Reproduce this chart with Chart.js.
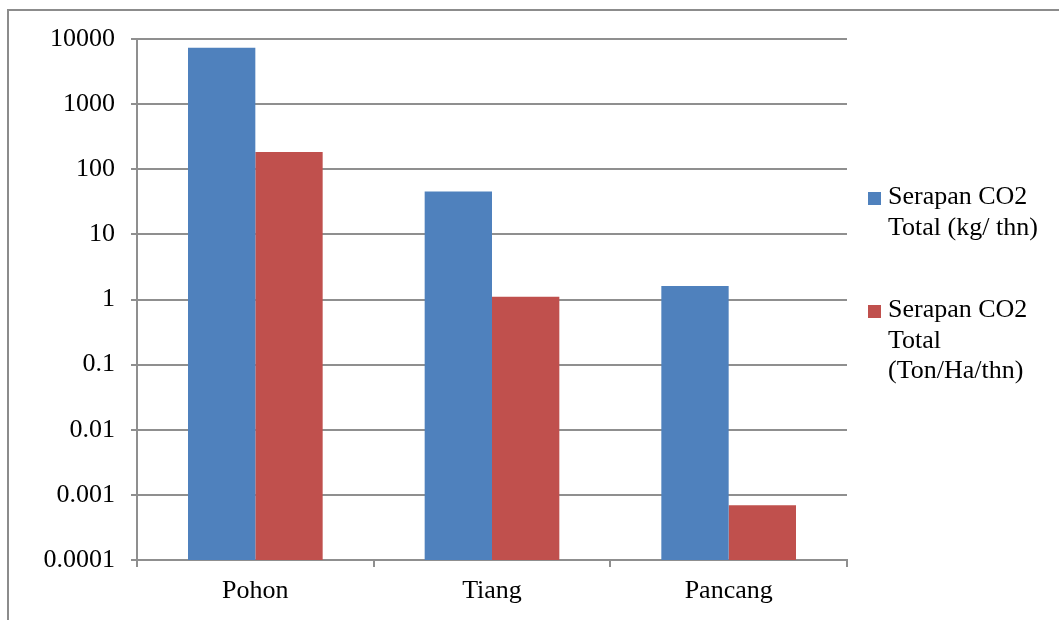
<!DOCTYPE html>
<html>
<head>
<meta charset="utf-8">
<script src="https://cdn.jsdelivr.net/npm/chart.js@4.4.1/dist/chart.umd.min.js"></script>
<style>
  html, body { margin: 0; padding: 0; background: #fff; }
  #wrap { position: relative; width: 1059px; height: 620px; overflow: hidden; }
  #frame { position: absolute; left: 7px; top: 9px; width: 1100px; height: 700px;
           border-top: 2px solid #8c8c8c; border-left: 2px solid #8c8c8c; pointer-events: none; }
  canvas { position: absolute; left: 0; top: 0; }
  .leg { position: absolute; left: 868px; font-family: "Liberation Serif", "Times New Roman", serif;
         font-size: 26px; line-height: 30.5px; color: #000; }
  .leg .sw { position: absolute; left: 0; width: 13px; height: 13px; }
  .leg .tx { position: absolute; left: 20px; top: 0; width: 165px; }
</style>
</head>
<body>
<div id="wrap">
  <canvas id="c" width="1059" height="620"></canvas>
  <div id="frame"></div>
</div>
<script>
const categories = ["Pohon", "Tiang", "Pancang"];
const seriesLabels = ["Serapan CO2 Total (kg/ thn)", "Serapan CO2 Total (Ton/Ha/thn)"];
const kgPerYear = [7350, 45.7, 1.61];
const tonPerHaYear = [184, 1.1, 0.000695];
const yTickValues = [0.0001, 0.001, 0.01, 0.1, 1, 10, 100, 1000, 10000];
const yTickLabels = ["0.0001", "0.001", "0.01", "0.1", "1", "10", "100", "1000", "10000"];
const seriesColors = ["#4F81BD", "#C0504D"];

const gridColor = "#8f8f8f";
const font = { family: "'Liberation Serif', 'Times New Roman', serif", size: 26 };

const chart = new Chart(document.getElementById("c"), {
  type: "bar",
  data: {
    labels: categories,
    datasets: [
      { label: seriesLabels[0], data: kgPerYear, backgroundColor: seriesColors[0] },
      { label: seriesLabels[1], data: tonPerHaYear, backgroundColor: seriesColors[1] }
    ]
  },
  options: {
    responsive: false,
    animation: false,
    devicePixelRatio: 1,
    categoryPercentage: 0.569,
    barPercentage: 1.0,
    layout: { padding: { left: 0, top: 39, right: 212, bottom: 0 } },
    plugins: { legend: { display: false }, tooltip: { enabled: false } },
    scales: {
      x: {
        offset: true,
        grid: { display: true, offset: true, drawOnChartArea: false, drawTicks: true,
                tickLength: 7, color: gridColor, lineWidth: 2 },
        border: { display: true, color: gridColor, width: 2 },
        ticks: { color: "#000", font: font, padding: 9, maxRotation: 0 },
        afterFit: s => { s.height = 60; }
      },
      y: {
        type: "logarithmic",
        min: yTickValues[0],
        max: yTickValues[yTickValues.length - 1],
        afterBuildTicks: s => { s.ticks = yTickValues.map(v => ({ value: v })); },
        grid: { color: gridColor, lineWidth: 2, drawTicks: true, tickLength: 6 },
        border: { display: true, color: gridColor, width: 2 },
        ticks: { color: "#000", font: font, padding: 16,
                 callback: (v, i) => yTickLabels[i] },
        afterFit: s => { s.width = 137; }
      }
    }
  }
});

// HTML legend built from the datasets
const legTops = [181, 294];
chart.data.datasets.forEach((ds, i) => {
  const d = document.createElement("div");
  d.className = "leg";
  d.style.top = legTops[i] + "px";
  const sw = document.createElement("div");
  sw.className = "sw";
  sw.style.background = ds.backgroundColor;
  sw.style.top = "11px";
  const tx = document.createElement("div");
  tx.className = "tx";
  tx.textContent = ds.label;
  d.appendChild(sw); d.appendChild(tx);
  document.getElementById("wrap").appendChild(d);
});
</script>
</body>
</html>
